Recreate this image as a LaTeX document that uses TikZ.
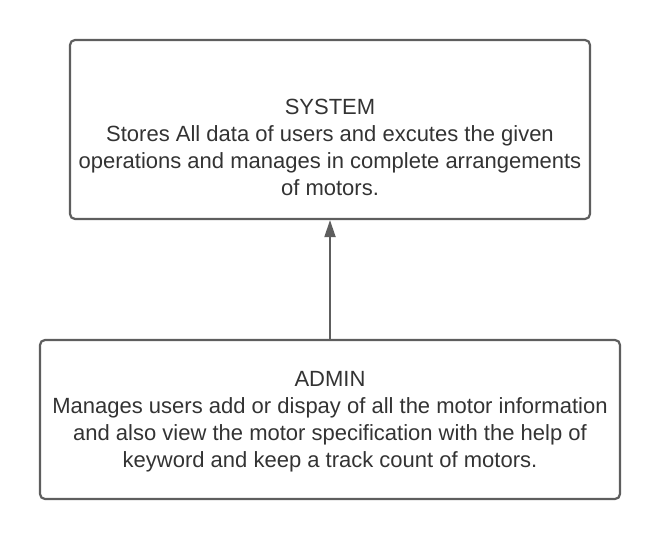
\documentclass[tikz,border=0pt]{standalone}
\usepackage{fontspec}
\setmainfont{Liberation Sans}
\usetikzlibrary{arrows.meta}
\definecolor{edgegray}{HTML}{5E5E5E}
\definecolor{txt}{HTML}{333333}
\begin{document}
\begin{tikzpicture}[x=1pt,y=-1pt,
  boxstyle/.style={draw=edgegray,line width=2.2pt,rounded corners=5pt,inner sep=0pt},
  textstyle/.style={text=txt,align=center,font=\fontsize{22}{27}\selectfont,inner sep=0pt},
  conn/.style={draw=edgegray,line width=2pt,-{Triangle[width=11pt,length=17pt]}}]
\useasboundingbox (0,0) rectangle (660,540);
\node[boxstyle,minimum width=520pt,minimum height=179pt] (sys) at (330,129.5) {};
\node[boxstyle,minimum width=580pt,minimum height=159pt] (adm) at (330,419.5) {};
\node[textstyle] (systxt) at (330,147.5) {SYSTEM\\Stores All data of users and excutes the given\\operations and manages in complete arrangements\\of motors.};
\node[textstyle] (admtxt) at (330,421.5) {ADMIN\\Manages users add or dispay of all the motor information\\and also view the motor specification with the help of\\keyword and keep a track count of motors.};
\draw[conn] (adm.north) -- (sys.south);
\end{tikzpicture}
\end{document}
